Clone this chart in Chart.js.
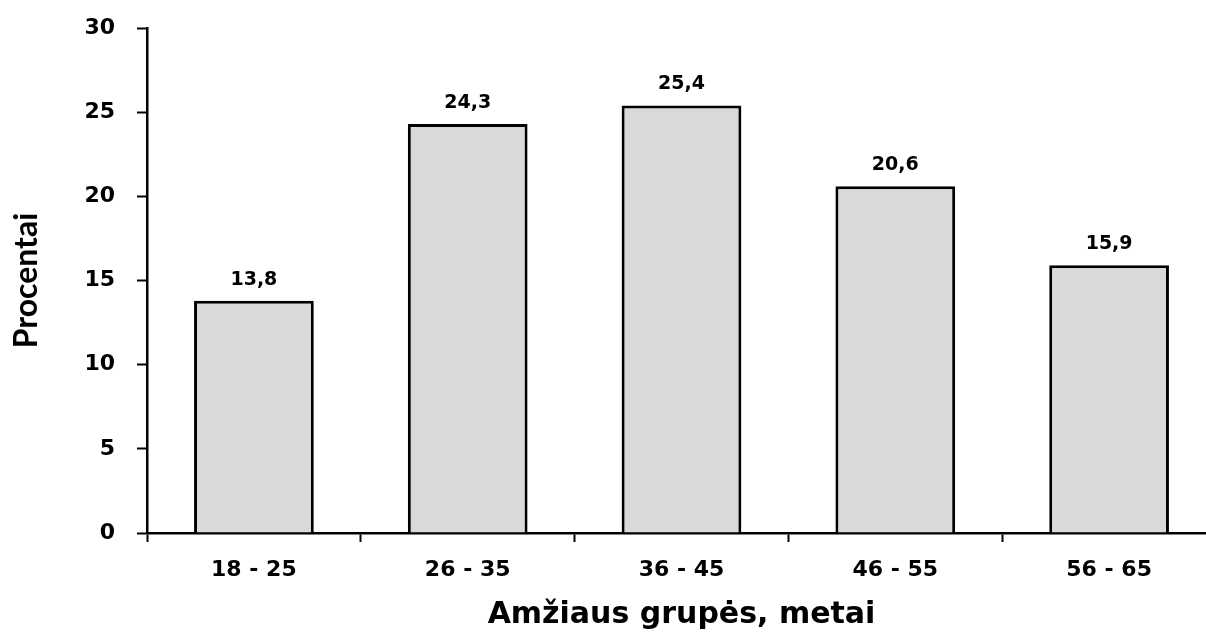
<!DOCTYPE html>
<html>
<head>
<meta charset="utf-8">
<script src="https://cdn.jsdelivr.net/npm/chart.js@4"></script>
<style>
  html, body { margin: 0; padding: 0; background: #fff; overflow: hidden; }
  #wrap { width: 1220px; height: 633px; }
</style>
</head>
<body>
<div id="wrap"><canvas id="myChart" width="1220" height="633"></canvas></div>
<script>
// DATA
const categories = ["18 - 25", "26 - 35", "36 - 45", "46 - 55", "56 - 65"];
const percents = [13.8, 24.3, 25.4, 20.6, 15.9];
const yMin = 0;
const yMax = 30;
const yStep = 5;

// value labels above bars (comma decimals)
const valueLabels = {
  id: "valueLabels",
  afterDatasetsDraw(chart) {
    const ctx = chart.ctx;
    const meta = chart.getDatasetMeta(0);
    ctx.save();
    ctx.font = "bold 19px 'DejaVu Sans'";
    ctx.fillStyle = "#000";
    ctx.textAlign = "center";
    ctx.textBaseline = "alphabetic";
    meta.data.forEach((bar, i) => {
      const txt = percents[i].toFixed(1).replace(".", ",");
      ctx.fillText(txt, bar.x, bar.y - 16);
    });
    ctx.restore();
  },
};

const data = {
  labels: categories,
  datasets: [
    {
      data: percents,
      backgroundColor: "#d9d9d9",
      borderColor: "#000",
      borderWidth: 3,
      barPercentage: 0.56,
      categoryPercentage: 1.0,
    },
  ],
};

const config = {
  type: "bar",
  data: data,
  plugins: [valueLabels],
  options: {
    responsive: false,
    animation: false,
    layout: { padding: { top: 28, right: 4, left: 0, bottom: 0 } },
    plugins: { legend: { display: false }, tooltip: { enabled: false } },
    scales: {
      x: {
        grid: {
          display: true,
          drawOnChartArea: false,
          drawTicks: true,
          tickLength: 9,
          tickWidth: 2,
          tickColor: "#000",
          offset: true,
        },
        border: { display: true, color: "#000", width: 2.5 },
        ticks: {
          color: "#000",
          padding: 15,
          font: { family: "'DejaVu Sans'", size: 22, weight: "bold" },
        },
        title: {
          display: true,
          text: "Amžiaus grupės, metai",
          color: "#000",
          font: { family: "'DejaVu Sans'", size: 30, weight: "bold" },
          padding: { top: 0, bottom: 0 },
        },
        afterFit(scale) {
          scale.height = 100;
        },
      },
      y: {
        min: yMin,
        max: yMax,
        grid: {
          display: true,
          drawOnChartArea: false,
          drawTicks: true,
          tickLength: 10,
          tickWidth: 2,
          tickColor: "#000",
        },
        border: { display: true, color: "#000", width: 2.5 },
        ticks: {
          stepSize: yStep,
          color: "#000",
          padding: 22,
          font: { family: "'DejaVu Sans'", size: 22, weight: "bold" },
        },
        title: {
          display: true,
          text: "Procentai",
          color: "#000",
          font: { family: "Lato", size: 32, weight: "bold" },
          padding: { top: 7, bottom: 0 },
        },
        afterFit(scale) {
          scale.width = 147;
          scale.paddingTop = 0;
        },
      },
    },
  },
};

var myChart = new Chart(document.getElementById("myChart"), config);
</script>
</body>
</html>
